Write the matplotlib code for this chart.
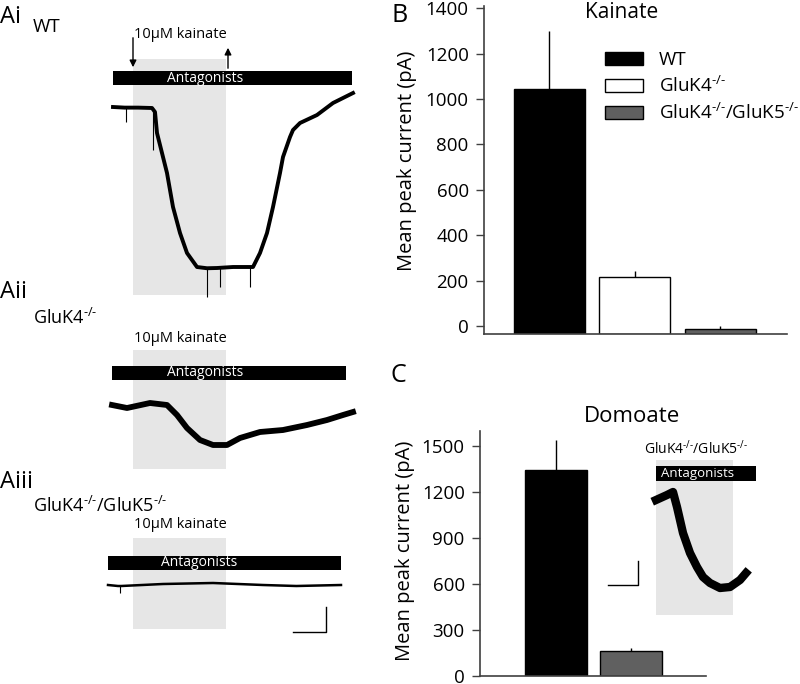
import matplotlib
matplotlib.use('Agg')
import matplotlib.pyplot as plt
from matplotlib.patches import Rectangle
import numpy as np

plt.rcParams['font.family'] = ['Open Sans', 'DejaVu Sans']
plt.rcParams['mathtext.fontset'] = 'custom'
plt.rcParams['mathtext.rm'] = 'Open Sans'
plt.rcParams['mathtext.it'] = 'Open Sans:italic'
plt.rcParams['mathtext.bf'] = 'Open Sans:bold'

SUP = r'$^{\text{-/-}}$'

# ---------------- data ----------------
# Panel B (kainate)
b_groups = ['WT', 'GluK4' + SUP, 'GluK4' + SUP + '/GluK5' + SUP]
b_means = [1045, 215, -15]
b_sem = [255, 27, 15]
b_yticks = [0, 200, 400, 600, 800, 1000, 1200, 1400]
bar_colors = ['#000000', '#ffffff', '#606060']

# Panel C (domoate)
c_groups = ['WT', 'GluK4' + SUP + '/GluK5' + SUP]
c_means = [1343, 163]
c_sem = [195, 20]
c_yticks = [0, 300, 600, 900, 1200, 1500]
c_colors = ['#000000', '#606060']

# Traces (time in s, current in pA relative to baseline)
wt_t = [0, 7, 15, 23.4, 25.2, 26.4, 32.4, 36, 40.2, 44.4, 50.4, 56.4, 62.4, 72, 84,
        88.2, 92.4, 96, 100.2, 102, 106.2, 108, 112.2, 122.4, 132, 144]
wt_i = [0, -5, -5, -8, -40, -208, -528, -800, -1008, -1168, -1280, -1290, -1288, -1280, -1280,
        -1168, -1008, -800, -528, -400, -240, -184, -128, -64, 32, 112]
wt_spike_t = [7.8, 24, 56.4, 64.2, 82.2]
wt_spike_tip = [-120, -344, -1520, -1440, -1440]

k4_t = [-0.6, 8.4, 22.2, 32.4, 38.4, 44.4, 52.2, 60, 68.4, 76.2, 88.2, 102, 116.4, 128.4, 138, 144]
k4_i = [0, -24, 16, 0, -80, -184, -280, -320, -320, -264, -216, -200, -160, -120, -80, -56]

dko_t = [-3, 3, 5, 30, 60, 90, 110, 136.8]
dko_i = [0, -8, -8, 8, 16, 0, -8, 0]
dko_spike_t = [4.2]
dko_spike_tip = [-60]

dom_t = [0, 5.5, 8.5, 10.5, 13.5, 17, 20.5, 23.5, 27, 32, 37, 42, 45]
dom_i = [0, 40, 64, -56, -264, -424, -536, -616, -664, -704, -696, -640, -584]

stim_on, stim_off = 12, 68

W, H = 800, 684
fig = plt.figure(figsize=(8, 6.84), dpi=100)


def px_axes(x0, y0, x1, y1):
    return fig.add_axes([x0 / W, 1 - y1 / H, (x1 - x0) / W, (y1 - y0) / H])


def fx(x):
    return x / W


def fy(y):
    return 1 - y / H


GRAY = '#e6e6e6'


def trace_panel(ax, t, i, xlim, ylim, rect_i, bar_t, bar_i, ant_t, kai_i, lw):
    ax.set_xlim(*xlim)
    ax.set_ylim(*ylim)
    ax.axis('off')
    ax.add_patch(Rectangle((stim_on, rect_i[1]), stim_off - stim_on, rect_i[0] - rect_i[1],
                           facecolor=GRAY, edgecolor='none', zorder=0))
    ax.add_patch(Rectangle((bar_t[0], bar_i[0]), bar_t[1] - bar_t[0], bar_i[1] - bar_i[0],
                           facecolor='black', edgecolor='none', zorder=2))
    ax.text(ant_t, (bar_i[0] + bar_i[1]) / 2, 'Antagonists', color='white', fontsize=10,
            ha='center', va='center', zorder=3)
    ax.text(40.2, kai_i, '10\u03bcM kainate', fontsize=10.5, ha='center', va='center')
    ax.plot(t, i, color='black', lw=lw, solid_joinstyle='round', zorder=2)


# ---------- Ai ----------
axA1 = px_axes(100, 20, 370, 310)
trace_panel(axA1, wt_t, wt_i, (-7.8, 154.2), (-1624, 696), (384, -1504), (0, 143.4), (176, 288),
            55, 584, 2.8)
axA1.vlines(wt_spike_t, np.interp(wt_spike_t, wt_t, wt_i), wt_spike_tip, color='black', lw=0.8)
axA1.annotate('', xy=(12, 296), xytext=(12, 576),
              arrowprops=dict(arrowstyle='-|>', color='black', lw=1, mutation_scale=10))
axA1.annotate('', xy=(69, 496), xytext=(69, 288),
              arrowprops=dict(arrowstyle='-|>', color='black', lw=1, mutation_scale=10))

# ---------- Aii ----------
axA2 = px_axes(100, 325, 370, 480)
trace_panel(axA2, k4_t, k4_i, (-7.8, 154.2), (-600, 640), (440, -512), (-0.6, 139.8), (200, 312),
            55, 536, 4.2)

# ---------- Aiii ----------
axA3 = px_axes(100, 510, 370, 645)
trace_panel(axA3, dko_t, dko_i, (-7.8, 154.2), (-480, 600), (376, -352), (-3, 136.8), (120, 232),
            51.6, 488, 1.8)
axA3.vlines(dko_spike_t, np.interp(dko_spike_t, dko_t, dko_i), dko_spike_tip, color='black', lw=0.8)
axA3.plot([107.8, 127.8, 127.8], [-376, -376, -176], color='black', lw=1)

# panel labels for A
fig.text(fx(0), fy(17), 'Ai', fontsize=17, va='center', ha='left')
fig.text(fx(33), fy(27), 'WT', fontsize=13.5, va='center', ha='left')
fig.text(fx(0), fy(292), 'Aii', fontsize=17, va='center', ha='left')
fig.text(fx(33), fy(318), 'GluK4' + SUP, fontsize=13, va='center', ha='left')
fig.text(fx(0), fy(482), 'Aiii', fontsize=17, va='center', ha='left')
fig.text(fx(33), fy(506), 'GluK4' + SUP + '/GluK5' + SUP, fontsize=13, va='center', ha='left')

SPINE = '#404040'


def style_bar_axes(ax):
    for s in ['top', 'right']:
        ax.spines[s].set_visible(False)
    for s in ['left', 'bottom']:
        ax.spines[s].set_color(SPINE)
        ax.spines[s].set_linewidth(1.2)
    ax.set_xticks([])
    ax.tick_params(axis='y', direction='out', length=6, width=1, color=SPINE,
                   labelsize=13.5, pad=5)


# ---------- B ----------
axB = px_axes(484, 6, 787, 334)
yminB = -35
xb = np.arange(len(b_means))
handles = axB.bar(xb, np.array(b_means) - yminB, bottom=yminB, width=0.83, color=bar_colors,
                  edgecolor='black', linewidth=1)
axB.errorbar(xb, b_means, yerr=[np.zeros(len(b_sem)), b_sem], fmt='none', ecolor='black',
             elinewidth=1, capsize=0)
axB.set_xlim(-0.766, 2.78)
axB.set_ylim(yminB, 1410)
axB.set_yticks(b_yticks)
style_bar_axes(axB)
leg = axB.legend(handles.patches, b_groups, loc='upper left', bbox_to_anchor=(0.40, 0.862),
                 frameon=False, fontsize=13.5, handlelength=2.0, handleheight=0.68,
                 handletextpad=0.85, labelspacing=0.36, borderpad=0, borderaxespad=0)
fig.text(fx(622), fy(12), 'Kainate', fontsize=15, ha='center', va='center')
fig.text(fx(407), fy(161), 'Mean peak current (pA)', fontsize=14.5, rotation=90,
         ha='center', va='center')
fig.text(fx(391), fy(15), 'B', fontsize=18, ha='left', va='center')

# ---------- C ----------
axC = px_axes(480, 431, 706, 676)
xc = np.arange(len(c_means))
axC.bar(xc, c_means, width=0.83, color=c_colors, edgecolor='black', linewidth=1)
axC.errorbar(xc, c_means, yerr=[np.zeros(len(c_sem)), c_sem], fmt='none', ecolor='black',
             elinewidth=1, capsize=0)
axC.set_xlim(-1.02, 2.01)
axC.set_ylim(0, 1600)
axC.set_yticks(c_yticks)
style_bar_axes(axC)
fig.text(fx(632), fy(417), 'Domoate', fontsize=16, ha='center', va='center')
fig.text(fx(405), fy(551), 'Mean peak current (pA)', fontsize=14.5, rotation=90,
         ha='center', va='center')
fig.text(fx(391), fy(376), 'C', fontsize=18, ha='left', va='center')

# inset trace in C
axI = px_axes(600, 440, 770, 625)
axI.set_xlim(-28, 57)
axI.set_ylim(-1000, 480)
axI.axis('off')
axI.patch.set_alpha(0)
axI.add_patch(Rectangle((0, -920), 38.5, 1240, facecolor=GRAY, edgecolor='none', zorder=0))
axI.add_patch(Rectangle((0, 152), 50, 120, facecolor='black', edgecolor='none', zorder=2))
axI.text(21, 212, 'Antagonists', color='white', fontsize=9.5, ha='center', va='center', zorder=3)
axI.text(20, 408, c_groups[1], fontsize=10, ha='center', va='center')
axI.plot(dom_t, dom_i, color='black', lw=6, solid_joinstyle='round', zorder=2)
axI.plot([-24, -9, -9], [-680, -680, -488], color='black', lw=1)

fig.savefig('out.png', dpi=100)
